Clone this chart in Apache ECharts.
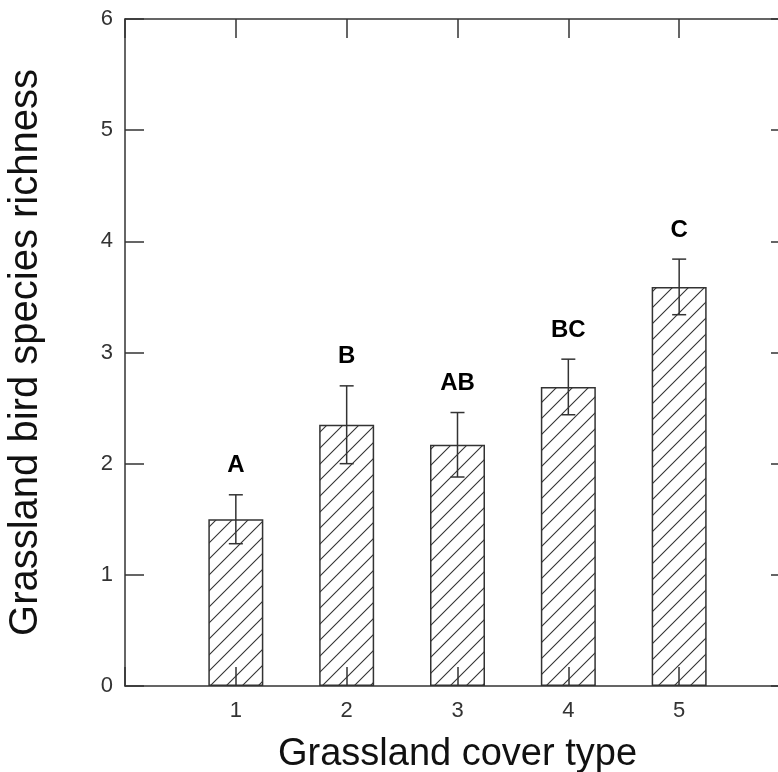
<!DOCTYPE html>
<html>
<head>
<meta charset="utf-8">
<script src="https://cdn.jsdelivr.net/npm/echarts@6/dist/echarts.min.js"></script>
<style>
html,body{margin:0;padding:0;background:#fff;}
#chart{width:778px;height:772px;}
</style>
</head>
<body>
<div id="chart"></div>
<script>
// ---- data ----
const categories = [1, 2, 3, 4, 5];
const meanRichness = [1.50, 2.35, 2.17, 2.69, 3.59];
const stdError = [0.22, 0.35, 0.29, 0.25, 0.25];
const groupLetters = ['A', 'B', 'AB', 'BC', 'C'];
const xTickLabels = ['', '1', '2', '3', '4', '5', ''];
const yTickLabels = ['0', '1', '2', '3', '4', '5', '6'];

// ---- hatch pattern ----
function makeHatch() {
  const s = 16;
  const c = document.createElement('canvas');
  c.width = s; c.height = s;
  const ctx = c.getContext('2d');
  ctx.strokeStyle = '#333';
  ctx.lineWidth = 1.1;
  ctx.beginPath();
  ctx.moveTo(-2, s + 2); ctx.lineTo(s + 2, -2);
  ctx.moveTo(-2, 2); ctx.lineTo(2, -2);
  ctx.moveTo(s - 2, s + 2); ctx.lineTo(s + 2, s - 2);
  ctx.stroke();
  return c;
}

const chart = echarts.init(document.getElementById('chart'), null, {renderer: 'canvas'});
const FONT = '"Liberation Sans", Arial, sans-serif';
const axisColor = '#333';
const lineStyle = {color: axisColor, width: 1.5};

const barData = categories.map((c, i) => [c, meanRichness[i]]);
const errData = categories.map((c, i) => [c, meanRichness[i], stdError[i], i]);

const option = {
  animation: false,
  backgroundColor: '#fff',
  grid: {left: 125, top: 19, width: 665, height: 667, containLabel: false, outerBoundsMode: 'none'},
  xAxis: [
    {
      type: 'value', min: 0, max: 6, interval: 1, position: 'bottom',
      axisLine: {show: true, onZero: false, lineStyle: lineStyle},
      axisTick: {show: true, inside: true, length: 19, lineStyle: lineStyle},
      axisLabel: {
        show: true, margin: 14, fontSize: 22, color: '#333', fontFamily: FONT,
        formatter: v => xTickLabels[Math.round(v)] || ''
      },
      splitLine: {show: false},
      name: 'Grassland cover type', nameLocation: 'middle', nameGap: 50,
      nameTextStyle: {fontSize: 38, color: '#111', fontFamily: FONT}
    },
    {
      type: 'value', min: 0, max: 6, interval: 1, position: 'top',
      axisLine: {show: true, onZero: false, lineStyle: lineStyle},
      axisTick: {show: true, inside: true, length: 19, lineStyle: lineStyle},
      axisLabel: {show: false},
      splitLine: {show: false}
    }
  ],
  yAxis: [
    {
      type: 'value', min: 0, max: 6, interval: 1, position: 'left',
      axisLine: {show: true, onZero: false, lineStyle: lineStyle},
      axisTick: {show: true, inside: true, length: 19, lineStyle: lineStyle},
      axisLabel: {
        show: true, margin: 12, fontSize: 22, color: '#333', fontFamily: FONT,
        formatter: v => yTickLabels[Math.round(v)]
      },
      splitLine: {show: false},
      name: 'Grassland bird species richness', nameLocation: 'middle', nameGap: 79,
      nameTextStyle: {fontSize: 40, color: '#111', fontFamily: FONT}
    },
    {
      type: 'value', min: 0, max: 6, interval: 1, position: 'right',
      axisLine: {show: true, onZero: false, lineStyle: lineStyle},
      axisTick: {show: true, inside: true, length: 19, lineStyle: lineStyle},
      axisLabel: {show: false},
      splitLine: {show: false}
    }
  ],
  series: [
    {
      type: 'bar',
      xAxisIndex: 0, yAxisIndex: 0,
      data: barData,
      barWidth: 55,
      itemStyle: {
        color: {image: makeHatch(), repeat: 'repeat'},
        borderColor: '#333',
        borderWidth: 1.5
      },
      z: 1
    },
    {
      type: 'custom',
      xAxisIndex: 0, yAxisIndex: 0,
      data: errData,
      z: 5,
      renderItem: function (params, api) {
        const x = api.value(0), m = api.value(1), se = api.value(2);
        const idx = api.value(3);
        const top = api.coord([x, m + se]);
        const bot = api.coord([x, m - se]);
        const hw = 7;
        const st = {stroke: '#333', lineWidth: 1.5};
        return {
          type: 'group',
          children: [
            {type: 'line', shape: {x1: top[0], y1: top[1], x2: bot[0], y2: bot[1]}, style: st},
            {type: 'line', shape: {x1: top[0] - hw, y1: top[1], x2: top[0] + hw, y2: top[1]}, style: st},
            {type: 'line', shape: {x1: bot[0] - hw, y1: bot[1], x2: bot[0] + hw, y2: bot[1]}, style: st},
            {
              type: 'text',
              style: {
                text: groupLetters[idx],
                x: top[0], y: top[1] - 29,
                align: 'center', verticalAlign: 'middle',
                font: 'bold 24px ' + FONT,
                fill: '#000'
              }
            }
          ]
        };
      }
    }
  ]
};
chart.setOption(option);
</script>
</body>
</html>
